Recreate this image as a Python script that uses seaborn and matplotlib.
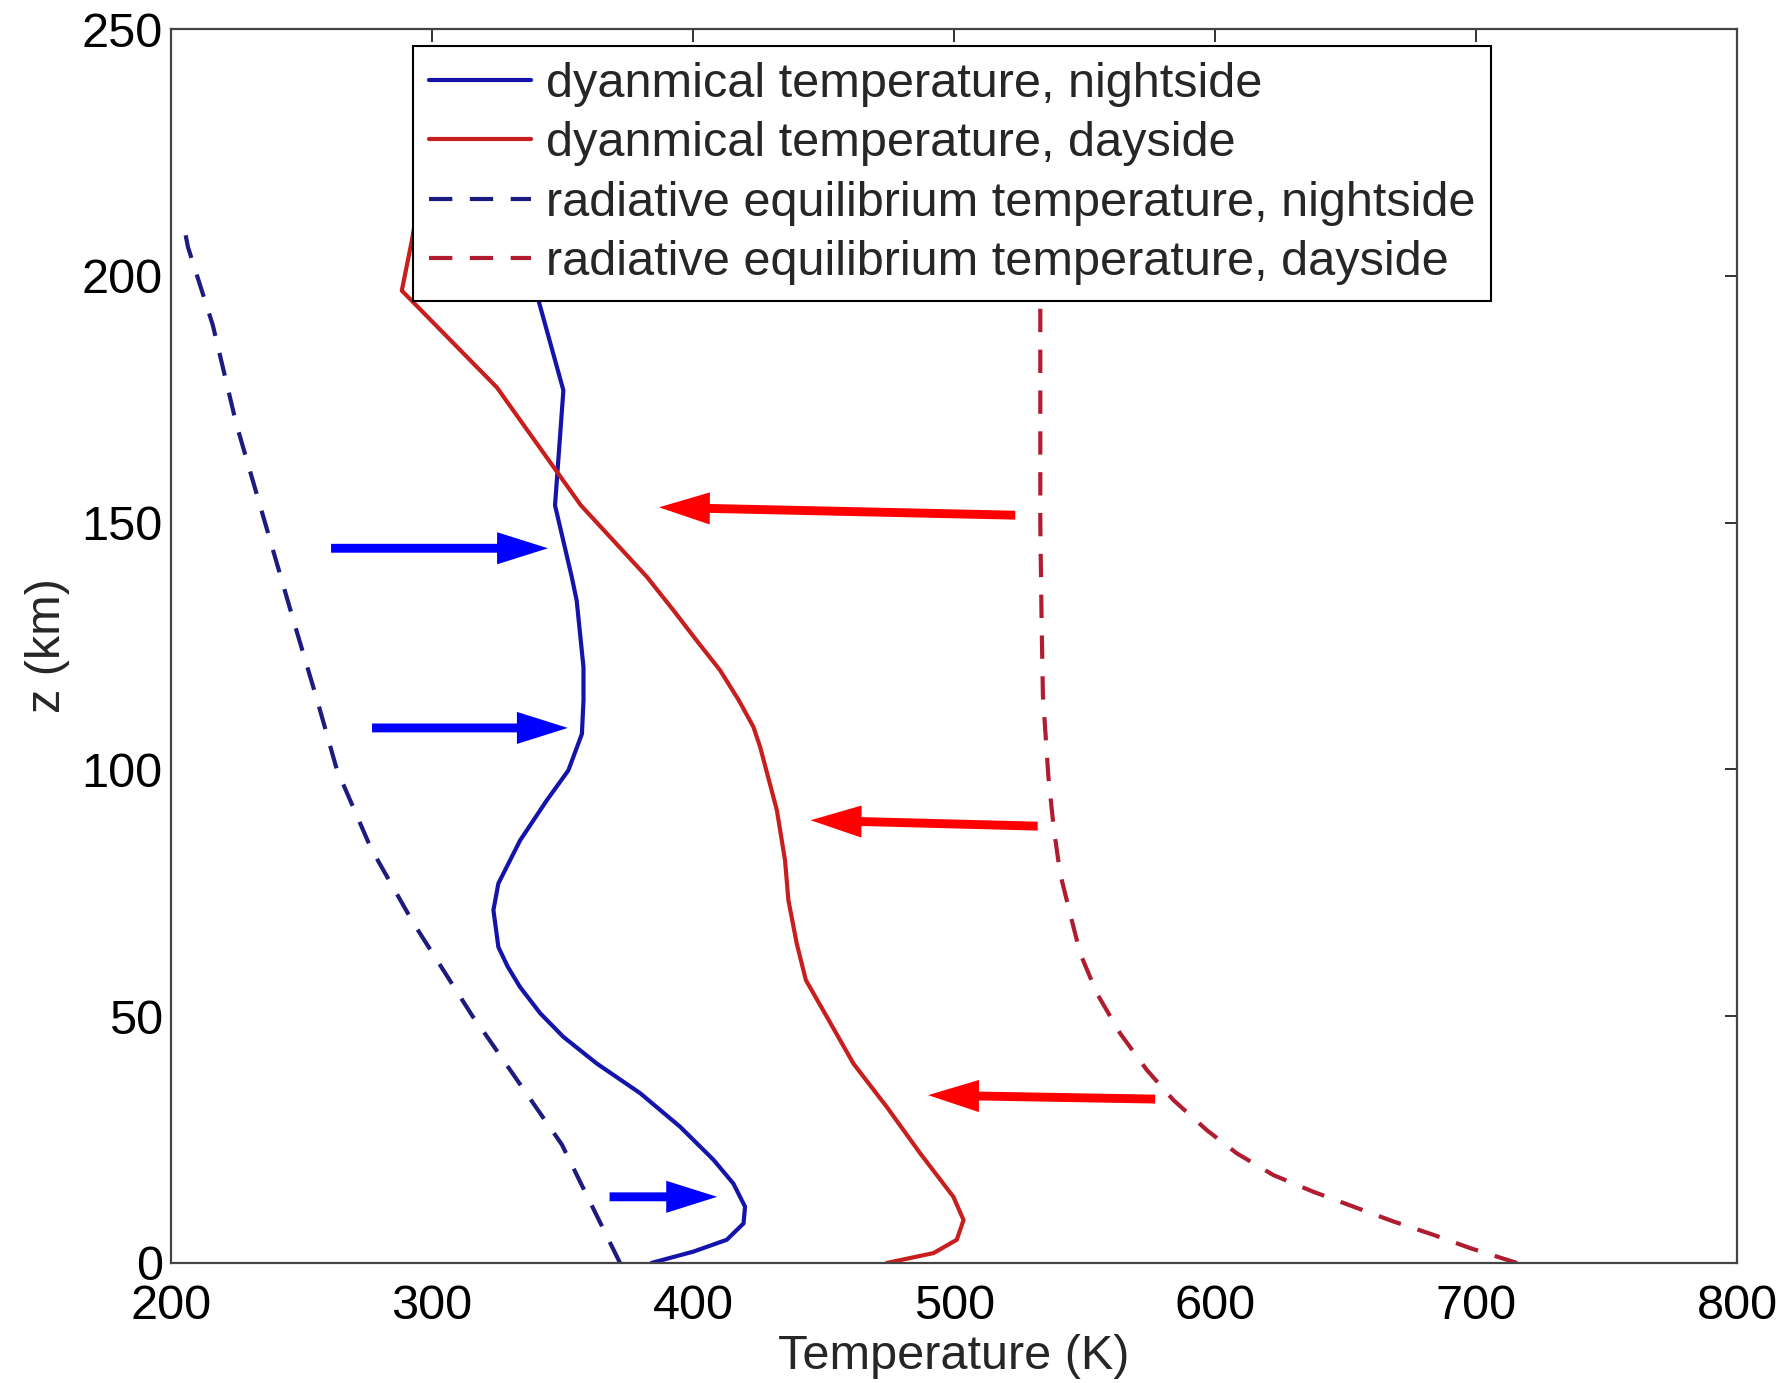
import matplotlib
matplotlib.use("Agg")
import matplotlib.pyplot as plt
import seaborn as sns

# ---------------- data ----------------
z_dyn_night = [0, 2.3, 4.7, 8.0, 11.4, 16.1, 20.9, 27.6, 34.4, 40.4, 45.8, 50.6, 55.9, 60, 64,
               71.5, 76.9, 85.6, 93.7, 99.8, 107.2, 114, 120.7, 134.2, 139, 153.5, 176.8, 196.3, 211]
T_dyn_night = [384, 400.1, 412.9, 419.3, 419.9, 415.4, 407.8, 395.0, 379.7, 363.1, 350.3, 341.4,
               333.7, 329, 325.4, 323.5, 325.4, 333.7, 343.9, 352.2, 357.4, 358, 358, 355.4, 353.5,
               347.1, 350.3, 340.1, 333]

z_dyn_day = [0, 2.0, 4.7, 8.7, 13.4, 22.2, 31.6, 40.4, 49.9, 57.3, 64.7, 73.5, 81.6, 91.7, 104.5,
             108.6, 114, 120.1, 126, 132.2, 139, 153.5, 177.4, 197, 207, 211]
T_dyn_day = [474.2, 492.1, 501.0, 503.6, 499.7, 487, 474.2, 461.4, 451.2, 443.2, 439.7, 436.5,
             435.2, 432.1, 425.7, 423.1, 417.5, 410.3, 401.5, 392.5, 382.3, 357, 324.8, 288.4,
             292.2, 293.5]

z_rad_night = [0, 24, 47.2, 50, 69, 84, 100, 114, 130, 150, 170, 190, 205.8, 211.4]
T_rad_night = [372, 349.7, 319.3, 315.5, 292.7, 276.6, 263.5, 256, 247, 236, 225, 216, 206.5, 204.4]

z_rad_day = [0, 3.0, 5.7, 8.4, 11.4, 14.4, 17.8, 22.2, 26.9, 33.0, 39.1, 46.5, 54.6, 62.7, 70.8,
             78.9, 88.3, 98.5, 115, 130, 150, 170, 190, 211]
T_rad_day = [715.6, 697.7, 683.6, 668.3, 653, 637.7, 622.3, 608.3, 596.8, 584, 573.8, 563.6, 554.7,
             548.3, 544.4, 540.6, 538.1, 536.1, 534, 533.5, 533, 533, 533, 533]

labels = ["dyanmical temperature, nightside",
          "dyanmical temperature, dayside",
          "radiative equilibrium temperature, nightside",
          "radiative equilibrium temperature, dayside"]

# arrows (tail T, tip T, tail z, tip z)
blue_arrow_tail_T = [261.3, 277.0, 368.0]
blue_arrow_tip_T = [344.4, 352.0, 409.2]
blue_arrow_tail_z = [144.8, 108.4, 13.4]
blue_arrow_tip_z = [144.8, 108.4, 13.4]

red_arrow_tail_T = [523.4, 532.0, 577.0]
red_arrow_tip_T = [386.9, 445.0, 490.0]
red_arrow_tail_z = [151.5, 88.5, 33.2]
red_arrow_tip_z = [153.1, 89.7, 34.0]

x_ticks = [200, 300, 400, 500, 600, 700, 800]
y_ticks = [0, 50, 100, 150, 200, 250]

# ---------------- style ----------------
sns.set_style("white")
plt.rcParams["font.family"] = ["Liberation Sans", "DejaVu Sans"]
plt.rcParams["font.size"] = 35

fig = plt.figure(figsize=(17.91, 13.83), dpi=100)
ax = fig.add_axes([0.0955, 0.0868, 0.8745, 0.8922])

c_dn = "#1414aa"
c_dd = "#c81e1e"
c_rn = "#1c1c80"
c_rd = "#b01c30"
lw = 3.0
dash = (0, (5.6, 4.2))

sns.lineplot(x=T_dyn_night, y=z_dyn_night, orient="y", estimator=None, ax=ax,
             color=c_dn, lw=lw, label=labels[0])
sns.lineplot(x=T_dyn_day, y=z_dyn_day, orient="y", estimator=None, ax=ax,
             color=c_dd, lw=lw, label=labels[1])
sns.lineplot(x=T_rad_night, y=z_rad_night, orient="y", estimator=None, ax=ax,
             color=c_rn, lw=lw, linestyle=dash, label=labels[2])
sns.lineplot(x=T_rad_day, y=z_rad_day, orient="y", estimator=None, ax=ax,
             color=c_rd, lw=lw, linestyle=dash, label=labels[3])

def draw_arrows(tT, hT, tz, hz, color):
    for a, b, c, d in zip(tT, hT, tz, hz):
        ax.arrow(a, c, b - a, d - c, width=1.8, head_width=6.5, head_length=19.5,
                 length_includes_head=True, color=color, lw=0, zorder=5)

draw_arrows(blue_arrow_tail_T, blue_arrow_tip_T, blue_arrow_tail_z, blue_arrow_tip_z, "#0000ff")
draw_arrows(red_arrow_tail_T, red_arrow_tip_T, red_arrow_tail_z, red_arrow_tip_z, "#ff0000")

ax.set_xlim(200, 800)
ax.set_ylim(0, 250)
ax.set_xticks(x_ticks)
ax.set_yticks(y_ticks)
ax.set_xlabel("Temperature (K)", fontsize=35, labelpad=4)
ax.set_ylabel("z (km)", fontsize=35, labelpad=8)
ax.tick_params(axis="both", direction="in", length=9, width=1.3, top=True, right=True,
               labelsize=35, colors="#222222", labelcolor="black")
ax.tick_params(axis="x", pad=15)
ax.tick_params(axis="y", pad=6)
for s in ax.spines.values():
    s.set_color("#444444")
    s.set_linewidth(1.6)
    s.set_visible(True)

leg = ax.legend(loc="upper left", bbox_to_anchor=(0.1545, 0.986), borderaxespad=0,
                fontsize=35, handlelength=2.1, handletextpad=0.3, labelspacing=0.29,
                borderpad=0.33, fancybox=False, framealpha=1, edgecolor="black")
leg.get_frame().set_linewidth(1.5)
leg.set_zorder(10)

fig.savefig("out.png", dpi=100, facecolor="white")
